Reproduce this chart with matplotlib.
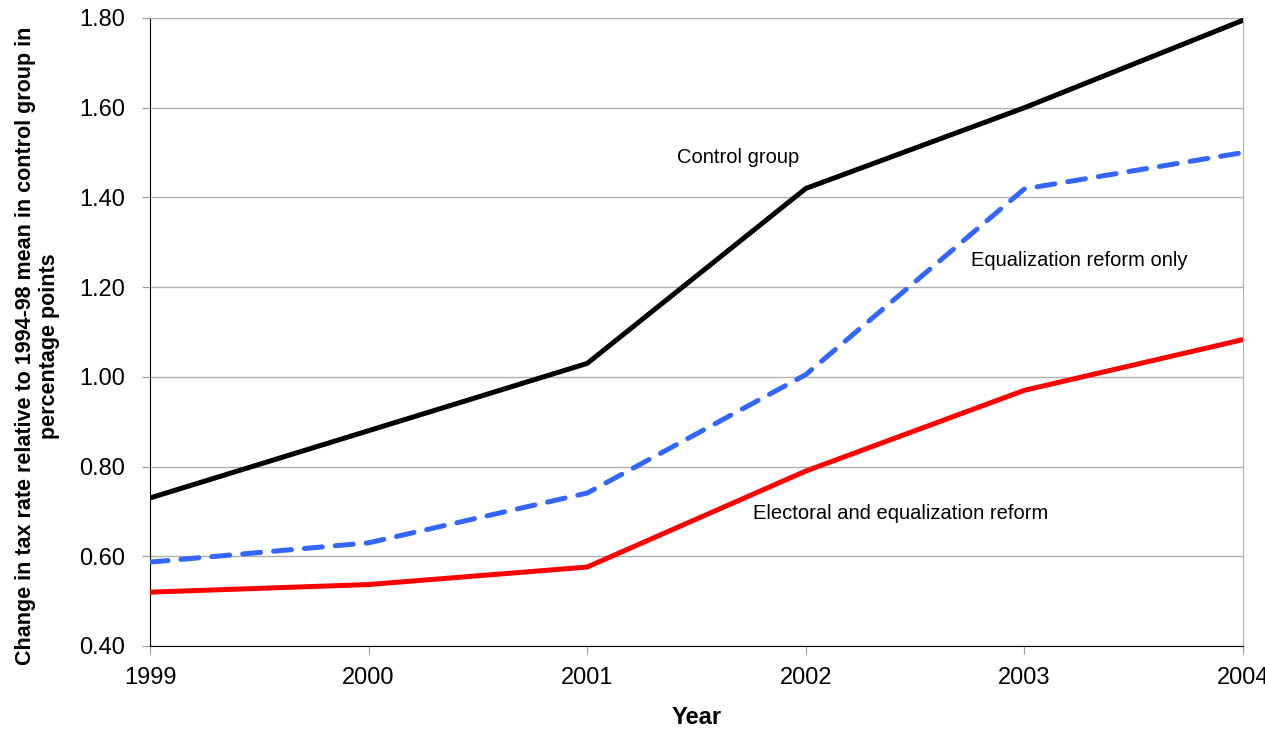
import matplotlib
matplotlib.use("Agg")
import matplotlib.pyplot as plt

plt.rcParams['font.family'] = ['Liberation Sans', 'DejaVu Sans']

years = [1999, 2000, 2001, 2002, 2003, 2004]
control = [0.73, 0.88, 1.03, 1.42, 1.60, 1.795]
equalization = [0.587, 0.63, 0.741, 1.005, 1.419, 1.50]
electoral = [0.52, 0.537, 0.576, 0.79, 0.97, 1.083]

fig = plt.figure(figsize=(12.65, 7.33), dpi=100)
ax = fig.add_axes([150 / 1265, 1 - 646 / 733, 1093 / 1265, 628 / 733])

ax.plot(years, control, color='black', lw=3.6, zorder=3)
ax.plot(years, equalization, color='#3366FF', lw=3.6, ls=(0, (3.6, 2.6)),
        dash_capstyle='round', zorder=3)
ax.plot(years, electoral, color='#FF0000', lw=3.6, zorder=3)

ax.set_xlim(1999, 2004)
ax.set_ylim(0.40, 1.80)
ax.set_yticks([0.4, 0.6, 0.8, 1.0, 1.2, 1.4, 1.6, 1.8])
ax.set_yticklabels(['%.2f' % v for v in ax.get_yticks()], fontsize=17)
ax.set_xticks(years)
ax.set_xticklabels([str(y) for y in years], fontsize=17)
ax.grid(axis='y', color='#b0b0b0', lw=1)
ax.set_axisbelow(True)

ax.spines['left'].set_color('black')
ax.spines['bottom'].set_color('black')
ax.spines['right'].set_color('#b0b0b0')
ax.spines['top'].set_color('#b0b0b0')
ax.tick_params(axis='y', color='#999999', length=6, pad=12)
ax.tick_params(axis='x', color='#999999', length=6, pad=9)

ax.set_xlabel('Year', fontsize=17, fontweight='bold', labelpad=12)
ax.set_ylabel('Change in tax rate relative to 1994-98 mean in control group in\npercentage points',
              fontsize=15.5, fontweight='bold')
ax.yaxis.set_label_coords(-0.082, 0.478)

ax.text(2001.41, 1.49, 'Control group', fontsize=14.5, ha='left', va='center')
ax.text(2002.756, 1.26, 'Equalization reform only', fontsize=14.5, ha='left', va='center')
ax.text(2001.758, 0.696, 'Electoral and equalization reform', fontsize=14.5, ha='left', va='center')

fig.savefig('out.png', dpi=100)
